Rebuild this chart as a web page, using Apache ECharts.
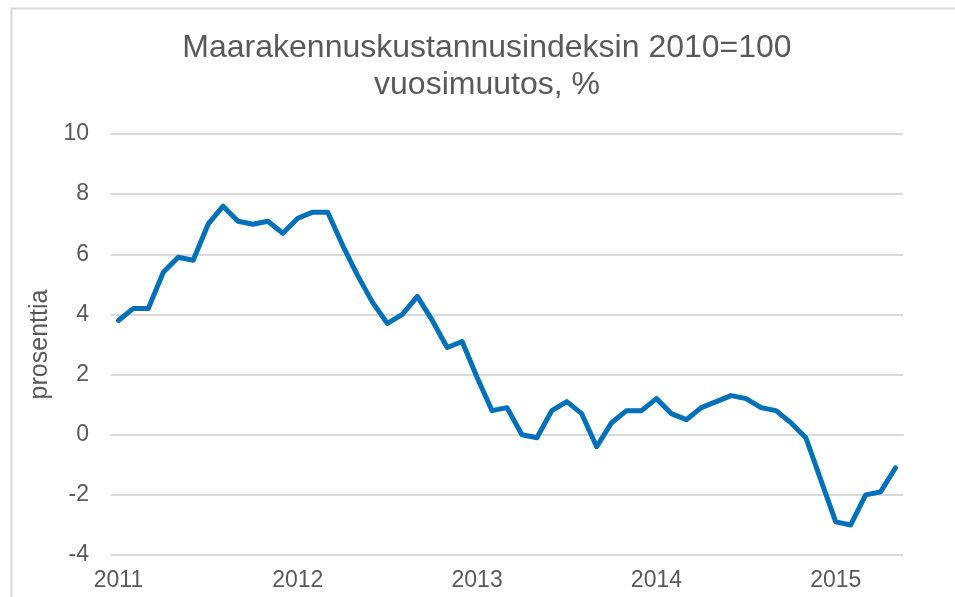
<!DOCTYPE html>
<html>
<head>
<meta charset="utf-8">
<script src="https://cdn.jsdelivr.net/npm/echarts@6/dist/echarts.min.js"></script>
<style>
  html, body { margin: 0; padding: 0; background: #fff; }
  #chart { width: 955px; height: 597px; }
</style>
</head>
<body>
<div id="chart"></div>
<script>
"use strict";

var years = ['2011', '2012', '2013', '2014', '2015'];
var monthNames = ['01', '02', '03', '04', '05', '06', '07', '08', '09', '10', '11', '12'];

// vuosimuutos, %  (tammikuu 2011 - toukokuu 2015)
var values = [
	3.8, 4.2, 4.2, 5.4, 5.9, 5.8, 7.0, 7.6, 7.1, 7.0, 7.1, 6.7,
	7.2, 7.4, 7.4, 6.3, 5.3, 4.4, 3.7, 4.0, 4.6, 3.8, 2.9, 3.1,
	1.9, 0.8, 0.9, 0.0, -0.1, 0.8, 1.1, 0.7, -0.4, 0.4, 0.8, 0.8,
	1.2, 0.7, 0.5, 0.9, 1.1, 1.3, 1.2, 0.9, 0.8, 0.4, -0.1, -1.5,
	-2.9, -3.0, -2.0, -1.9, -1.1
];

var yTicks = [-4, -2, 0, 2, 4, 6, 8, 10];

var TEXT_COLOR = '#595959';
var GRID_COLOR = '#d9d9d9';
var LINE_COLOR = '#0070b8';
var FONT = '"Liberation Sans", Arial, sans-serif';

var categories = [];
for (var i = 0; i < values.length; i++) {
	categories.push(years[Math.floor(i / 12)] + '-' + monthNames[i % 12]);
}

var chart = echarts.init(document.getElementById('chart'), null, { renderer: 'canvas' });

chart.setOption({
	backgroundColor: '#fff',
	animation: false,
	textStyle: { fontFamily: FONT },
	title: {
		text: 'Maarakennuskustannusindeksin 2010=100\nvuosimuutos, %',
		left: 482,
		top: 25,
		textAlign: 'center',
		textStyle: {
			fontFamily: FONT,
			fontSize: 32,
			fontWeight: 'normal',
			lineHeight: 37,
			color: TEXT_COLOR
		}
	},
	graphic: [{
		type: 'rect',
		left: 9,
		top: 6,
		shape: { width: 960, height: 600 },
		style: { fill: 'none', stroke: GRID_COLOR, lineWidth: 2 },
		silent: true
	}],
	grid: {
		left: 111,
		right: 52,
		top: 134,
		bottom: 42
	},
	xAxis: {
		type: 'category',
		boundaryGap: true,
		data: categories,
		axisLine: { lineStyle: { color: GRID_COLOR, width: 2 } },
		axisTick: {
			alignWithLabel: true,
			interval: 0,
			length: 5,
			lineStyle: { color: GRID_COLOR, width: 2 }
		},
		axisLabel: {
			interval: function(index) { return index % 12 === 0; },
			formatter: function(value) { return value.slice(0, 4); },
			margin: 14,
			fontSize: 23,
			fontFamily: FONT,
			color: TEXT_COLOR
		},
		splitLine: { show: false }
	},
	yAxis: {
		type: 'value',
		min: yTicks[0],
		max: yTicks[yTicks.length - 1],
		interval: 2,
		name: 'prosenttia',
		nameLocation: 'middle',
		nameGap: 54,
		nameTextStyle: {
			fontSize: 25,
			fontFamily: FONT,
			color: TEXT_COLOR
		},
		axisLine: { show: false },
		axisTick: { show: false },
		axisLabel: {
			margin: 22,
			fontSize: 23,
			fontFamily: FONT,
			color: TEXT_COLOR
		},
		splitLine: { lineStyle: { color: GRID_COLOR, width: 2 } }
	},
	series: [{
		name: 'vuosimuutos',
		type: 'line',
		data: values,
		symbol: 'none',
		smooth: false,
		lineStyle: {
			color: LINE_COLOR,
			width: 5,
			join: 'round',
			cap: 'round'
		}
	}]
});
</script>
</body>
</html>
